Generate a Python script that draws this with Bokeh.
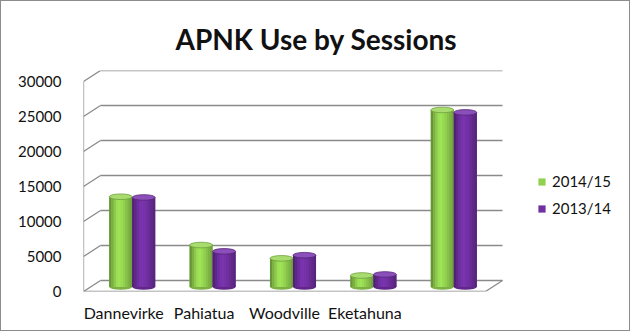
from bokeh.plotting import figure
from bokeh.models import Range1d, FixedTicker, Legend, LegendItem, ColumnDataSource
from bokeh.embed import file_html
from bokeh.resources import INLINE

categories = ["Dannevirke", "Pahiatua", "Woodville", "Eketahuna", ""]
series_names = ["2014/15", "2013/14"]
sessions_2014_15 = [12900, 6000, 4100, 1650, 25300]
sessions_2013_14 = [12800, 5100, 4550, 1800, 24950]
y_ticks = [0, 5000, 10000, 15000, 20000, 25000, 30000]

FONT = "Lato"
BORDER = 1
W, H = 632 - 2 * BORDER, 333 - 2 * BORDER
# positions in page pixels, converted to canvas pixels
FRAME_L, BOX_R, FRAME_T, FRAME_B = 83 - BORDER, 502 - BORDER, 70 - BORDER, 291 - BORDER
DEPTH_X_PX, DEPTH_Y_PX = 17, 11

n = len(categories)
px_per_x = (BOX_R - FRAME_L - DEPTH_X_PX) / n
dx = DEPTH_X_PX / px_per_x
ymax = y_ticks[-1]
px_per_y = (FRAME_B - FRAME_T - DEPTH_Y_PX) / ymax
dy = DEPTH_Y_PX / px_per_y

p = figure(width=W, height=H, x_range=Range1d(0, (W - FRAME_L) / px_per_x),
           y_range=Range1d(0, ymax + dy),
           output_backend="svg", toolbar_location=None,
           min_border_left=FRAME_L, min_border_right=0,
           min_border_top=FRAME_T, min_border_bottom=H - FRAME_B)
p.styles = {"border": "1px solid #8c8c8c"}
p.outline_line_color = None
p.xgrid.visible = False
p.ygrid.visible = False
p.background_fill_color = "white"
p.border_fill_color = "white"

# title
p.title.text = "APNK Use by Sessions"
p.title.align = "left"
p.title.text_font = FONT
p.title.text_font_style = "bold"
p.title.text_font_size = "28px"
p.title.text_color = "#111111"
p.title.standoff = 29
p.title.offset = 92

# 3D box: back wall gridlines, connectors, front-left edge, floor
grid_col = "#8a8a8a"
p.segment(x0=[dx] * len(y_ticks), y0=[t + dy for t in y_ticks],
          x1=[n + dx] * len(y_ticks), y1=[t + dy for t in y_ticks],
          line_color=grid_col, line_width=1.3)
p.segment(x0=[0] * len(y_ticks), y0=y_ticks, x1=[dx] * len(y_ticks),
          y1=[t + dy for t in y_ticks], line_color=grid_col, line_width=1.3)
p.segment(x0=[0, 0, n], y0=[0, 0, 0], x1=[0, n, n + dx], y1=[ymax, 0, dy],
          line_color=grid_col, line_width=1.3)

# cylinders
bar_w = 0.286
profile = [0.72, 0.85, 0.97, 1.07, 1.1, 1.06, 1.0, 0.93, 0.86, 0.78]
bases = [(146, 208, 80), (112, 48, 160)]
tops_col = ["#a9dc6f", "#8a4fb8"]
edge_col = ["#6f9f3c", "#55257a"]

def shade(rgb, f):
    r, g, b = (max(0, min(255, int(c * f))) for c in rgb)
    return "#%02x%02x%02x" % (r, g, b)

legend_items = []
for s, vals in enumerate([sessions_2014_15, sessions_2013_14]):
    centers = [i + 0.5 + dx / 2 + (s - 0.5) * bar_w for i in range(n)]
    base_y = dy / 2 - 150
    p.ellipse(x=centers, y=[base_y] * n, width=bar_w, height=800,
              fill_color=shade(bases[s], 0.85), line_color=None)
    base_r = p.vbar(x=centers, bottom=[base_y] * n, top=[v + base_y for v in vals],
                    width=bar_w, fill_color=shade(bases[s], 1.0), line_color=None)
    xs, tops, cols = [], [], []
    k = len(profile)
    sw = bar_w / k
    for c, v in zip(centers, vals):
        for j, f in enumerate(profile):
            xs.append(c - bar_w / 2 + sw * (j + 0.5))
            tops.append(v + base_y)
            cols.append(shade(bases[s], f))
    src = ColumnDataSource(dict(x=xs, top=tops, color=cols, bottom=[base_y] * len(xs)))
    p.vbar(x="x", bottom="bottom", top="top", width=sw * 1.05, fill_color="color",
           line_color=None, source=src)
    p.ellipse(x=centers, y=[v + base_y for v in vals], width=bar_w, height=800,
              fill_color=tops_col[s], line_color=edge_col[s], line_width=0.8)
    legend_items.append(LegendItem(label=series_names[s], renderers=[base_r]))

# axes
p.yaxis.ticker = FixedTicker(ticks=y_ticks)
p.yaxis.axis_line_color = None
p.yaxis.major_tick_line_color = None
p.yaxis.minor_tick_line_color = None
p.yaxis.major_label_standoff = 16
p.yaxis.major_label_text_font = FONT
p.yaxis.major_label_text_font_size = "15px"
p.yaxis.major_label_text_color = "#111111"

p.xaxis.ticker = FixedTicker(ticks=[i + 0.5 for i in range(n)])
p.xaxis.major_label_overrides = {i + 0.5: c for i, c in enumerate(categories)}
p.xaxis.axis_line_color = None
p.xaxis.major_tick_line_color = None
p.xaxis.minor_tick_line_color = None
p.xaxis.major_label_standoff = 5
p.xaxis.major_label_text_font = FONT
p.xaxis.major_label_text_font_size = "16px"
p.xaxis.major_label_text_color = "#111111"

legend = Legend(items=legend_items, location=(537 - 83, 73),
                orientation="vertical",
                glyph_width=9, glyph_height=9, label_height=20, spacing=7,
                padding=3, margin=0, border_line_color=None,
                background_fill_alpha=0,
                label_text_font=FONT, label_text_font_size="15px",
                label_text_color="#111111", label_standoff=6)
p.add_layout(legend, "center")

open("out.html", "w").write(file_html(p, INLINE))
